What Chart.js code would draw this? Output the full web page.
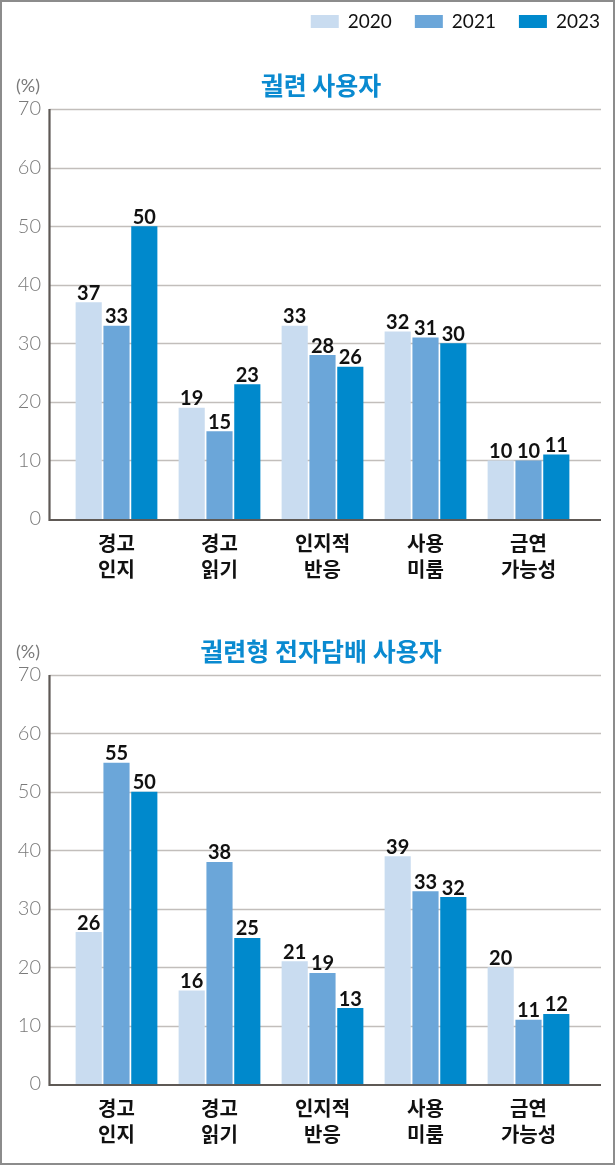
<!DOCTYPE html>
<html>
<head>
<meta charset="utf-8">
<script src="https://cdn.jsdelivr.net/npm/chart.js@4.4.0/dist/chart.umd.min.js"></script>
<style>
  html, body { margin: 0; padding: 0; background: #fff; }
  #wrap { position: relative; width: 615px; height: 1165px; overflow: hidden; }
  #frame { position: absolute; left: 0; top: 0; width: 615px; height: 1165px; box-sizing: border-box; border: 2px solid #8c8c8c; pointer-events: none; }
  .box { position: absolute; left: 0; width: 615px; }
  #b1 { top: 0; height: 590px; }
  #b2 { top: 590px; height: 575px; }
</style>
</head>
<body>
<div id="wrap">
  <div class="box" id="b1"><canvas id="c1" width="615" height="590"></canvas></div>
  <div class="box" id="b2"><canvas id="c2" width="615" height="575"></canvas></div>
  <div id="frame"></div>
</div>
<script>
// data
const categories = [['경고', '인지'], ['경고', '읽기'], ['인지적', '반응'], ['사용', '미룸'], ['금연', '가능성']]
const years = ['2020', '2021', '2023']
const yTicks = [0, 10, 20, 30, 40, 50, 60, 70]

const cig2020 = [37, 19, 33, 32, 10]
const cig2021 = [33, 15, 28, 31, 10]
const cig2023 = [50, 23, 26, 30, 11]

const ecig2020 = [26, 16, 21, 39, 20]
const ecig2021 = [55, 38, 19, 33, 11]
const ecig2023 = [50, 25, 13, 32, 12]

const titles = ['궐련 사용자', '궐련형 전자담배 사용자']
const colors = ['#c9dcf0', '#6ba6d9', '#0089cc']

const KR = '"Noto Sans CJK KR", "Noto Sans", sans-serif'

// grid, axes, labels, title, legend
const decor = {
  id: 'decor',
  beforeDatasetsDraw(chart, args, opts) {
    const c = chart.ctx
    const y = chart.scales.y
    const x0 = 49.5, x1 = 601
    c.save()
    c.strokeStyle = '#c2bebb'
    c.lineWidth = 1.3
    yTicks.forEach(v => {
      if (v === 0) return
      const py = Math.round(y.getPixelForValue(v)) + 0.5
      c.beginPath(); c.moveTo(x0, py); c.lineTo(x1, py); c.stroke()
    })
    c.restore()
  },
  afterDatasetsDraw(chart, args, opts) {
    const c = chart.ctx
    const y = chart.scales.y
    const x0 = 49.5, x1 = 601
    const top = y.getPixelForValue(70), bot = y.getPixelForValue(0)
    c.save()
    c.strokeStyle = '#5e5955'
    c.lineWidth = 2.2
    c.beginPath(); c.moveTo(x0, top); c.lineTo(x0, bot + 1); c.lineTo(x1, bot + 1); c.stroke()

    // value labels
    c.fillStyle = '#111'
    c.font = 'bold 20px Lato, sans-serif'
    c.textAlign = 'center'
    c.textBaseline = 'alphabetic'
    chart.data.datasets.forEach((ds, i) => {
      chart.getDatasetMeta(i).data.forEach((bar, j) => {
        c.fillText(ds.data[j], bar.x, bar.y - 2.5)
      })
    })

    // title
    c.fillStyle = '#0a8ad0'
    c.font = 'bold 25px ' + KR
    c.textBaseline = 'middle'
    c.fillText(opts.title, 321, top - 24)

    // unit
    c.fillStyle = '#7a7a7a'
    c.font = '18px Lato, sans-serif'
    c.textAlign = 'left'
    c.fillText('(%)', 16, top - 23)

    // legend
    if (opts.legend) {
      c.font = '19px Lato, sans-serif'
      c.textBaseline = 'middle'
      let right = 600
      const items = chart.data.datasets.map(ds => ({ label: ds.label, color: ds.backgroundColor }))
      for (let k = items.length - 1; k >= 0; k--) {
        const w = c.measureText(items[k].label).width
        const tx = right - w
        c.fillStyle = '#111'
        c.fillText(items[k].label, tx, 22)
        c.fillStyle = items[k].color
        c.fillRect(tx - 37, 15, 28, 13)
        right = tx - 37 - 23
      }
    }
    c.restore()
  }
}

function makeChart(id, d20, d21, d23, title, padTop, xHeight, legend) {
  return new Chart(document.getElementById(id), {
    type: 'bar',
    data: {
      labels: categories,
      datasets: [
        { label: years[0], data: d20, backgroundColor: colors[0] },
        { label: years[1], data: d21, backgroundColor: colors[1] },
        { label: years[2], data: d23, backgroundColor: colors[2] }
      ]
    },
    options: {
      responsive: false,
      animation: false,
      layout: { padding: { top: padTop, left: 0, right: 35, bottom: 0 } },
      datasets: { bar: { categoryPercentage: 0.81, barPercentage: 0.94 } },
      plugins: {
        legend: { display: false },
        tooltip: { enabled: false },
        decor: { title: title, legend: legend }
      },
      scales: {
        x: {
          grid: { display: false, drawTicks: false },
          border: { display: false },
          ticks: {
            padding: 11,
            color: '#111',
            font: { family: KR, size: 20, weight: 'bold', lineHeight: 1.3 }
          },
          afterFit: s => { s.height = xHeight }
        },
        y: {
          min: 0,
          max: 70,
          grid: { display: false, drawTicks: false },
          border: { display: false },
          ticks: {
            stepSize: 10,
            padding: 24,
            color: '#7a7a7a',
            font: { family: 'Lato, sans-serif', size: 20, weight: 300 }
          },
          afterFit: s => { s.width = 65 }
        }
      }
    },
    plugins: [decor]
  })
}

makeChart('c1', cig2020, cig2021, cig2023, titles[0], 109, 71, true)
makeChart('c2', ecig2020, ecig2021, ecig2023, titles[1], 85, 81, false)
</script>
</body>
</html>
